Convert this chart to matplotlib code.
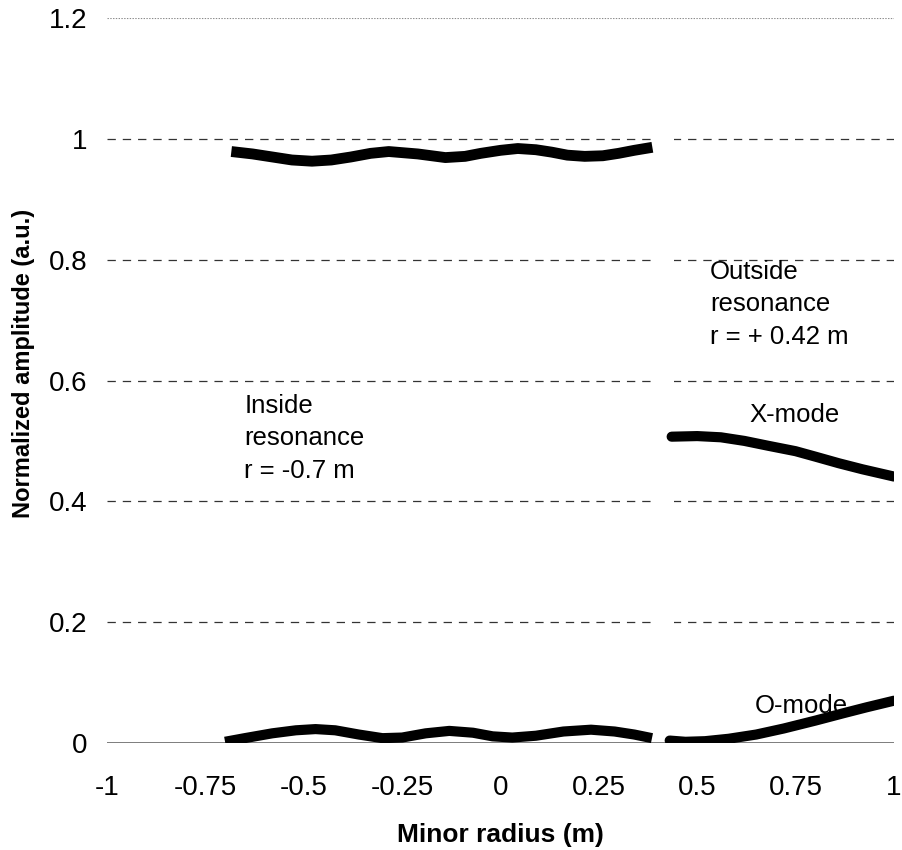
import numpy as np
import matplotlib
matplotlib.use("Agg")
import matplotlib.pyplot as plt

plt.rcParams['font.family'] = ['Liberation Sans', 'DejaVu Sans']
plt.rcParams['lines.scale_dashes'] = False

# inside-resonance launch: X-mode (top) and O-mode (bottom)
x_in = [-0.684, -0.63, -0.58, -0.53, -0.479, -0.43, -0.38, -0.33, -0.284, -0.21,
        -0.14, -0.09, -0.05, 0.00, 0.044, 0.09, 0.13, 0.17, 0.214, 0.26, 0.30, 0.34, 0.386]
xmode_in = [0.979, 0.975, 0.970, 0.965, 0.963, 0.965, 0.970, 0.976, 0.979, 0.975,
            0.969, 0.971, 0.976, 0.981, 0.984, 0.982, 0.978, 0.973, 0.971, 0.972, 0.976, 0.981, 0.986]

x_o_in = [-0.70, -0.65, -0.58, -0.52, -0.47, -0.42, -0.36, -0.30, -0.25, -0.19, -0.13,
          -0.07, -0.02, 0.03, 0.09, 0.16, 0.23, 0.29, 0.34, 0.385]
omode_in = [0.002, 0.008, 0.016, 0.021, 0.023, 0.021, 0.014, 0.008, 0.009, 0.016, 0.020,
            0.017, 0.011, 0.009, 0.012, 0.019, 0.022, 0.019, 0.014, 0.008]

# outside-resonance launch
x_out = [0.435, 0.50, 0.56, 0.62, 0.68, 0.75, 0.80, 0.86, 0.92, 0.96, 1.0]
xmode_out = [0.507, 0.508, 0.506, 0.500, 0.492, 0.483, 0.474, 0.463, 0.453, 0.447, 0.441]

x_o_out = [0.43, 0.47, 0.52, 0.58, 0.65, 0.72, 0.80, 0.87, 0.93, 1.0]
omode_out = [0.004, 0.002, 0.003, 0.007, 0.014, 0.024, 0.037, 0.049, 0.059, 0.070]

xticks = [-1, -0.75, -0.5, -0.25, 0, 0.25, 0.5, 0.75, 1]
xticklabels = ['-1', '-0.75', '-0.5', '-0.25', '0', '0.25', '0.5', '0.75', '1']
yticks = [0, 0.2, 0.4, 0.6, 0.8, 1, 1.2]
yticklabels = ['0', '0.2', '0.4', '0.6', '0.8', '1', '1.2']

fig = plt.figure(figsize=(9.03, 8.5), dpi=100)
ax = fig.add_axes([0.1185, 0.1259, 0.8715, 0.8529])

ax.set_xlim(-1, 1)
ax.set_ylim(0, 1.2)

# dashed grid, broken where the two runs meet
for yv in yticks[1:-1]:
    ax.axhline(yv, color='0.2', lw=0.9, ls=(0, (6, 5)), zorder=1)
ax.axhline(1.2, color='0.55', lw=0.8, ls=(0, (1, 1)), zorder=1)
ax.axvspan(0.386, 0.44, ymin=0.01, ymax=0.99, color='white', lw=0, zorder=1.5)
ax.axhline(0, color='0.45', lw=1.3, zorder=1)

ax.plot(x_in, xmode_in, color='black', lw=7.8, solid_capstyle='butt', solid_joinstyle='round', zorder=3)
ax.plot(x_o_in, omode_in, color='black', lw=7.3, solid_capstyle='butt', solid_joinstyle='round', zorder=3)
ax.plot(x_out, xmode_out, color='black', lw=7.3, solid_capstyle='round', solid_joinstyle='round', zorder=3)
ax.plot(x_o_out, omode_out, color='black', lw=7.3, solid_capstyle='round', solid_joinstyle='round', zorder=3)

for s in ax.spines.values():
    s.set_visible(False)

ax.set_xticks(xticks)
ax.set_xticklabels(xticklabels)
ax.set_yticks(yticks)
ax.set_yticklabels(yticklabels)
ax.tick_params(axis='x', length=0, pad=23, labelsize=20)
ax.tick_params(axis='y', length=0, pad=14, labelsize=20)

ax.set_xlabel('Minor radius (m)', fontsize=19, fontweight='bold', labelpad=16)
ax.set_ylabel('Normalized amplitude (a.u.)', fontsize=17, fontweight='bold')
ax.yaxis.set_label_coords(-0.092, 0.524)

ax.text(0.532, 0.80, 'Outside\nresonance\nr = + 0.42 m', fontsize=18.5, va='top', ha='left', linespacing=1.45)
ax.text(-0.651, 0.578, 'Inside\nresonance\nr = -0.7 m', fontsize=18.5, va='top', ha='left', linespacing=1.45)
ax.text(0.633, 0.532, 'X-mode', fontsize=18.5, va='baseline', ha='left')
ax.text(0.646, 0.050, 'O-mode', fontsize=18.5, va='baseline', ha='left')

fig.savefig('out.png', dpi=100)
